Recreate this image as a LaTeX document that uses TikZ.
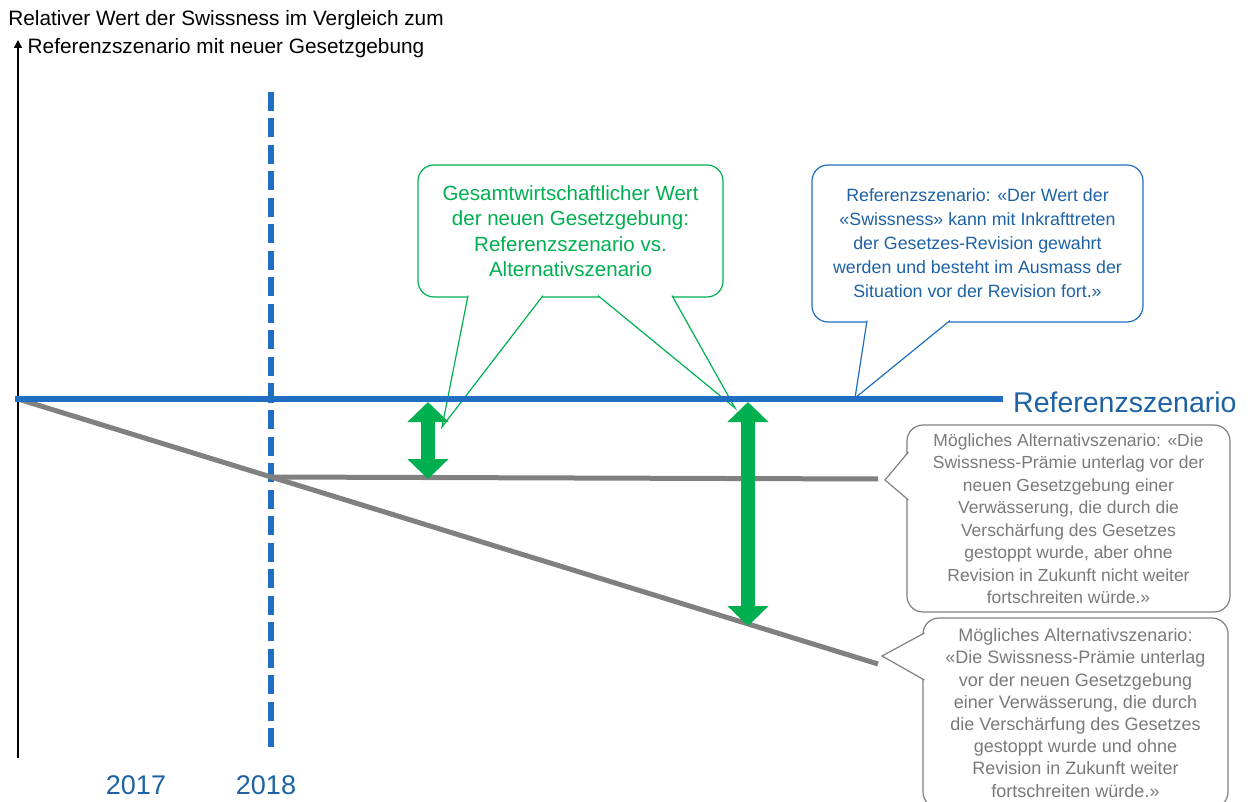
\documentclass[tikz,border=0pt]{standalone}
\usepackage{fontspec}
\setmainfont{Liberation Sans}
\usetikzlibrary{arrows.meta,calc}

\definecolor{refblue}{RGB}{31,110,193}
\definecolor{txtblue}{RGB}{30,98,165}
\definecolor{gapgreen}{RGB}{0,176,80}
\definecolor{altgray}{RGB}{128,128,128}
\definecolor{txtgray}{RGB}{122,122,122}

\tikzset{
  callout/.style={draw, fill=white, rounded corners=16pt, line width=1.2pt, align=center, inner sep=0pt},
  pointer/.style={fill=white, line width=1.2pt},
  gaparrow/.style={gapgreen, line width=14pt, {Triangle[width=40pt,length=20pt]}-{Triangle[width=40pt,length=20pt]}},
  scenline/.style={line width=5pt},
}

\begin{document}
\begin{tikzpicture}[x=1pt,y=-1pt]
    \useasboundingbox (0,0) rectangle (1259,802);
    % Sprechblasen
    \node[callout, draw=gapgreen, text=gapgreen, minimum width=305pt, minimum height=132pt,
          font=\fontsize{20.5}{25.5}\selectfont] (wertbox) at (570.5,231)
          {Gesamtwirtschaftlicher Wert\\der neuen Gesetzgebung:\\Referenzszenario vs.\\Alternativszenario};
    \node[callout, draw=refblue, text=txtblue, minimum width=331pt, minimum height=157pt,
          font=\fontsize{17.8}{24}\selectfont] (refbox) at (977.5,243.5)
          {Referenzszenario: «Der Wert der\\«Swissness» kann mit Inkrafttreten\\der Gesetzes-Revision gewahrt\\werden und besteht im Ausmass der\\Situation vor der Revision fort.»};
    \node[callout, draw=altgray, text=txtgray, minimum width=323pt, minimum height=187pt,
          font=\fontsize{17.5}{22.5}\selectfont] (altbox) at (1068.5,518.5)
          {Mögliches Alternativszenario: «Die\\Swissness-Prämie unterlag vor der\\neuen Gesetzgebung einer\\Verwässerung, die durch die\\Verschärfung des Gesetzes\\gestoppt wurde, aber ohne\\Revision in Zukunft nicht weiter\\fortschreiten würde.»};
    \node[callout, draw=altgray, text=txtgray, minimum width=305pt, minimum height=190pt,
          font=\fontsize{18}{22.2}\selectfont] (trendbox) at (1075.5,713)
          {Mögliches Alternativszenario:\\«Die Swissness-Prämie unterlag\\vor der neuen Gesetzgebung\\einer Verwässerung, die durch\\die Verschärfung des Gesetzes\\gestoppt wurde und ohne\\Revision in Zukunft weiter\\fortschreiten würde.»};

    % Spitzen der Sprechblasen
    \coordinate (wertA) at (442,427);
    \coordinate (wertB) at (735,408);
    \coordinate (refA) at (855,398);
    \coordinate (altA) at (885,480);
    \coordinate (trendA) at (882,656);
    \filldraw[pointer, draw=gapgreen] ($(wertbox.south)+(-102.5,-2)$) -- (wertA) -- ($(wertbox.south)+(-27.5,-2)$);
    \filldraw[pointer, draw=gapgreen] ($(wertbox.south)+(27.5,-2)$) -- (wertB) -- ($(wertbox.south)+(101.5,-2)$);
    \filldraw[pointer, draw=refblue] ($(refbox.south)+(-110.5,-2)$) -- (refA) -- ($(refbox.south)+(-27.5,-2)$);
    \filldraw[pointer, draw=altgray] ($(altbox.west)+(2,-66.5)$) -- (altA) -- ($(altbox.west)+(2,-18.5)$);
    \filldraw[pointer, draw=altgray] ($(trendbox.west)+(2,-80)$) -- (trendA) -- ($(trendbox.west)+(2,-33)$);

    % Achse
    \draw[line width=1.4pt, -{Triangle[width=8pt,length=8pt]}] (18,758) -- (18,40);
    \node[font=\fontsize{20.8}{28}\selectfont, align=center] (achse) at (226,34)
         {Relativer Wert der Swissness im Vergleich zum\\Referenzszenario mit neuer Gesetzgebung};

    % Stichtag
    \coordinate (stichO) at (271,92);
    \coordinate (stichU) at (271,747);
    \draw[refblue, line width=6.5pt, dash pattern=on 19pt off 7.5pt] (stichO) -- (stichU);
    \node[text=txtblue, font=\fontsize{27}{30}\selectfont] (j2017) at (136,785) {2017};
    \node[text=txtblue, font=\fontsize{27}{30}\selectfont] (j2018) at (266,785) {2018};

    % Szenarien
    \coordinate (start) at (18,399);
    \coordinate (split) at (271,477);
    \coordinate (flatend) at (878,479);
    \coordinate (trendend) at (878,664);
    \draw[altgray, scenline] (start) -- (trendend);
    \draw[altgray, scenline] (split) -- (flatend);
    \coordinate (refstart) at (15,399);
    \coordinate (refend) at (1003,399);
    \draw[refblue, scenline] (refstart) -- (refend);
    \node[text=txtblue, anchor=west, font=\fontsize{28.5}{30}\selectfont, inner sep=0pt] (reflabel) at ($(refend)+(10,3)$) {Referenzszenario};

    % Differenzen
    \coordinate (gapAo) at (428,402);
    \coordinate (gapAu) at (428,479);
    \coordinate (gapBo) at (748,402);
    \coordinate (gapBu) at (748,626);
    \draw[gaparrow] (gapAo) -- (gapAu);
    \draw[gaparrow] (gapBo) -- (gapBu);
\end{tikzpicture}
\end{document}
